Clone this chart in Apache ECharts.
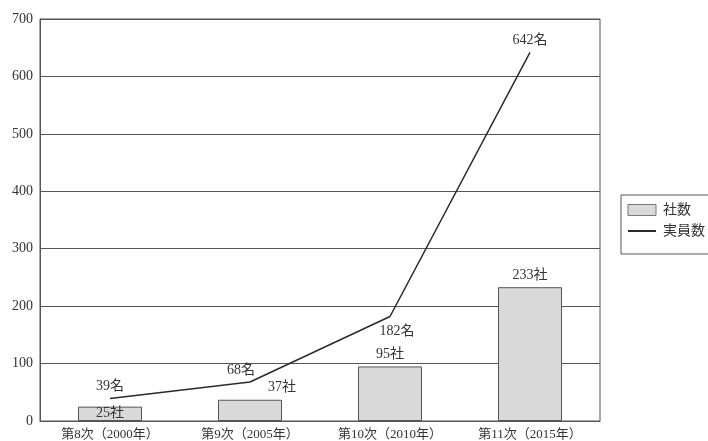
<!DOCTYPE html>
<html lang="ja">
<head>
    <meta charset="UTF-8">
    <title>社数・実員数</title>
    <style>
        * { margin: 0; padding: 0; }
        body { background: #fff; }
        #chart { width: 708px; height: 441px; }
    </style>
</head>
<body>
    <div id="chart"></div>
    <script src="https://cdn.jsdelivr.net/npm/echarts@6/dist/echarts.min.js"></script>
    <script>
    // データ
    const categories = ['第8次（2000年）', '第9次（2005年）', '第10次（2010年）', '第11次（2015年）'];
    const companies = [25, 37, 95, 233];   // 社数
    const members = [39, 68, 182, 642];    // 実員数
    const yTicks = [0, 100, 200, 300, 400, 500, 600, 700];

    const font = "'Liberation Serif', 'Noto Sans CJK JP', serif";
    const ink = '#333';
    const rule = '#555';

    // ラベル位置の微調整
    const barLabels = [
        { position: 'inside' },
        { position: 'top', offset: [32, 0] },
        { position: 'top' },
        { position: 'top' }
    ];
    const lineLabels = [
        { position: 'top' },
        { position: 'top', offset: [-9, 0] },
        { position: 'bottom', offset: [7, 3] },
        { position: 'top' }
    ];

    const chart = echarts.init(document.getElementById('chart'));

    const option = {
        animation: false,
        textStyle: { fontFamily: font, color: ink },
        grid: {
            left: 40, top: 19, right: 108, bottom: 20,
            show: true, borderColor: rule, borderWidth: 1
        },
        legend: {
            orient: 'vertical',
            left: 621, top: 195,
            padding: [8, 10, 16, 6],
            itemWidth: 28, itemHeight: 11, itemGap: 7,
            borderColor: rule, borderWidth: 1,
            textStyle: { fontFamily: font, fontSize: 14, color: ink, padding: [0, 0, 0, 2] },
            data: [
                { name: '社数', icon: 'rect', itemStyle: { borderColor: '#777', borderWidth: 1 } },
                { name: '実員数', itemStyle: { opacity: 0 } }
            ]
        },
        xAxis: {
            type: 'category',
            data: categories,
            axisLine: { lineStyle: { color: rule } },
            axisTick: { inside: true, length: 4, lineStyle: { color: rule } },
            axisLabel: { fontFamily: font, fontSize: 13, color: ink, margin: 7 }
        },
        yAxis: {
            type: 'value',
            min: yTicks[0], max: yTicks[yTicks.length - 1], interval: 100,
            axisLine: { show: true, lineStyle: { color: rule } },
            axisTick: { show: false },
            axisLabel: { fontFamily: font, fontSize: 14, color: ink, margin: 7 },
            splitLine: { lineStyle: { color: rule, width: 1 } }
        },
        series: [
            {
                name: '社数',
                type: 'bar',
                barWidth: 64,
                itemStyle: { color: '#d9d9d9', borderColor: rule, borderWidth: 1 },
                label: {
                    show: true, fontFamily: font, fontSize: 14, color: ink,
                    formatter: '{c}社'
                },
                data: companies.map((v, i) => ({ value: v, label: barLabels[i] }))
            },
            {
                name: '実員数',
                type: 'line',
                symbol: 'circle',
                symbolSize: 0.01,
                lineStyle: { color: '#2a2a2a', width: 1.5 },
                itemStyle: { color: '#2a2a2a' },
                label: {
                    show: true, fontFamily: font, fontSize: 14, color: ink,
                    formatter: '{c}名'
                },
                data: members.map((v, i) => ({ value: v, label: lineLabels[i] }))
            }
        ]
    };

    chart.setOption(option);
    </script>
</body>
</html>
